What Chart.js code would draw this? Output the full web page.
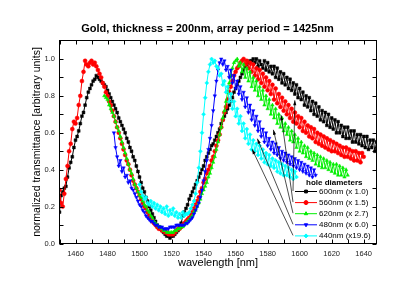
<!DOCTYPE html>
<html>
<head>
<meta charset="utf-8">
<script src="https://cdn.jsdelivr.net/npm/chart.js@4/dist/chart.umd.min.js"></script>
<style>
  html, body { margin: 0; padding: 0; background: #fff; }
  #wrap { width: 415px; height: 290px; }
</style>
</head>
<body>
<div id="wrap"><canvas id="spectra" width="415" height="290"></canvas></div>
<script>
// wavelength grid (nm) shared by all series, 1450 .. 1648
const wavelength = [
  1450, 1451, 1452, 1453, 1454, 1455, 1456, 1457, 1458, 1459,
  1460, 1461, 1462, 1463, 1464, 1465, 1466, 1467, 1468, 1469,
  1470, 1471, 1472, 1473, 1474, 1475, 1476, 1477, 1478, 1479,
  1480, 1481, 1482, 1483, 1484, 1485, 1486, 1487, 1488, 1489,
  1490, 1491, 1492, 1493, 1494, 1495, 1496, 1497, 1498, 1499,
  1500, 1501, 1502, 1503, 1504, 1505, 1506, 1507, 1508, 1509,
  1510, 1511, 1512, 1513, 1514, 1515, 1516, 1517, 1518, 1519,
  1520, 1521, 1522, 1523, 1524, 1525, 1526, 1527, 1528, 1529,
  1530, 1531, 1532, 1533, 1534, 1535, 1536, 1537, 1538, 1539,
  1540, 1541, 1542, 1543, 1544, 1545, 1546, 1547, 1548, 1549,
  1550, 1551, 1552, 1553, 1554, 1555, 1556, 1557, 1558, 1559,
  1560, 1561, 1562, 1563, 1564, 1565, 1566, 1567, 1568, 1569,
  1570, 1571, 1572, 1573, 1574, 1575, 1576, 1577, 1578, 1579,
  1580, 1581, 1582, 1583, 1584, 1585, 1586, 1587, 1588, 1589,
  1590, 1591, 1592, 1593, 1594, 1595, 1596, 1597, 1598, 1599,
  1600, 1601, 1602, 1603, 1604, 1605, 1606, 1607, 1608, 1609,
  1610, 1611, 1612, 1613, 1614, 1615, 1616, 1617, 1618, 1619,
  1620, 1621, 1622, 1623, 1624, 1625, 1626, 1627, 1628, 1629,
  1630, 1631, 1632, 1633, 1634, 1635, 1636, 1637, 1638, 1639,
  1640, 1641, 1642, 1643, 1644, 1645, 1646, 1647, 1648
];

// normalized transmittance for each hole diameter (null = not measured)
const hole600 = [
  0.17, 0.26, 0.28, 0.30, 0.31, 0.36, 0.41, 0.44, 0.47, 0.52,
  0.56, 0.58, 0.61, 0.65, 0.69, 0.71, 0.75, 0.79, 0.82, 0.84,
  0.86, 0.88, 0.89, 0.91, 0.90, 0.89, 0.88, 0.87, 0.86, 0.85,
  0.83, 0.81, 0.79, 0.77, 0.75, 0.73, 0.71, 0.68, 0.66, 0.64,
  0.62, 0.60, 0.57, 0.55, 0.52, 0.50, 0.47, 0.45, 0.42, 0.39,
  0.36, 0.33, 0.30, 0.28, 0.25, 0.23, 0.20, 0.18, 0.16, 0.14,
  0.12, 0.10, 0.09, 0.08, 0.07, 0.06, 0.05, 0.04, 0.04, 0.03,
  0.04, 0.04, 0.05, 0.06, 0.07, 0.09, 0.11, 0.15, 0.17, 0.19,
  0.21, 0.24, 0.26, 0.28, 0.30, 0.32, 0.34, 0.36, 0.38, 0.40,
  0.42, 0.45, 0.47, 0.49, 0.51, 0.53, 0.54, 0.56, 0.58, 0.60,
  0.62, 0.65, 0.67, 0.69, 0.71, 0.73, 0.75, 0.77, 0.79, 0.82,
  0.84, 0.86, 0.88, 0.90, 0.92, 0.94, 0.96, 0.97, 0.98, 0.99,
  0.99, 1.00, 0.98, 1.00, 0.96, 0.99, 0.97, 0.95, 0.99, 0.94,
  0.98, 0.93, 0.96, 0.92, 0.96, 0.90, 0.95, 0.89, 0.93, 0.87,
  0.92, 0.86, 0.90, 0.84, 0.89, 0.83, 0.87, 0.81, 0.86, 0.79,
  0.84, 0.78, 0.82, 0.75, 0.80, 0.74, 0.79, 0.72, 0.77, 0.70,
  0.76, 0.69, 0.74, 0.67, 0.72, 0.66, 0.71, 0.64, 0.70, 0.63,
  0.68, 0.62, 0.67, 0.60, 0.66, 0.60, 0.64, 0.58, 0.63, 0.57,
  0.63, 0.57, 0.61, 0.55, 0.61, 0.55, 0.59, 0.54, 0.59, 0.53,
  0.58, 0.52, 0.58, 0.51, 0.56, 0.52, 0.56, 0.50, 0.55
];
const hole560 = [
  0.29, 0.22, 0.20, 0.27, 0.35, 0.42, 0.50, 0.54, 0.62, 0.66,
  0.65, 0.68, 0.75, 0.80, 0.88, 0.93, 0.99, 0.97, 0.96, 0.98,
  0.99, 0.97, 0.98, 0.96, 0.94, 0.92, 0.90, 0.87, 0.85, 0.82,
  0.80, 0.77, 0.75, 0.72, 0.69, 0.66, 0.63, 0.60, 0.57, 0.54,
  0.51, 0.48, 0.45, 0.43, 0.40, 0.37, 0.34, 0.32, 0.30, 0.28,
  0.26, 0.24, 0.22, 0.20, 0.19, 0.17, 0.15, 0.14, 0.12, 0.11,
  0.10, 0.09, 0.08, 0.08, 0.07, 0.07, 0.06, 0.06, 0.05, 0.05,
  0.05, 0.05, 0.06, 0.07, 0.08, 0.08, 0.09, 0.10, 0.11, 0.12,
  0.13, 0.14, 0.16, 0.17, 0.19, 0.21, 0.23, 0.25, 0.28, 0.30,
  0.33, 0.35, 0.38, 0.40, 0.42, 0.45, 0.47, 0.50, 0.53, 0.56,
  0.59, 0.63, 0.67, 0.71, 0.74, 0.78, 0.82, 0.85, 0.88, 0.91,
  0.93, 0.95, 0.96, 0.98, 0.99, 1.00, 0.97, 0.99, 0.95, 0.98,
  0.93, 0.97, 0.91, 0.95, 0.89, 0.94, 0.87, 0.92, 0.85, 0.90,
  0.83, 0.88, 0.81, 0.86, 0.78, 0.84, 0.76, 0.81, 0.74, 0.79,
  0.72, 0.77, 0.70, 0.75, 0.68, 0.73, 0.66, 0.71, 0.65, 0.69,
  0.63, 0.68, 0.61, 0.66, 0.60, 0.64, 0.58, 0.63, 0.57, 0.62,
  0.55, 0.60, 0.54, 0.59, 0.53, 0.58, 0.52, 0.57, 0.51, 0.56,
  0.50, 0.55, 0.50, 0.54, 0.49, 0.53, 0.48, 0.52, 0.47, 0.52,
  0.47, 0.51, 0.46, 0.50, 0.45, 0.50, 0.45, 0.49, 0.44, 0.49,
  0.47, null, null, null, null, null, null, null, null
];
const hole620 = [
  null, null, null, null, null, null, null, null, null, null,
  null, null, null, null, null, null, null, null, null, null,
  null, null, null, null, null, null, null, null, 0.80, 0.79,
  0.78, 0.75, 0.73, 0.71, 0.69, 0.66, 0.63, 0.61, 0.58, 0.55,
  0.52, 0.49, 0.46, 0.43, 0.40, 0.38, 0.35, 0.32, 0.30, 0.28,
  0.26, 0.25, 0.23, 0.21, 0.20, 0.18, 0.17, 0.15, 0.14, 0.12,
  0.11, 0.10, 0.09, 0.09, 0.08, 0.07, 0.07, 0.06, 0.06, 0.06,
  0.06, 0.06, 0.07, 0.07, 0.08, 0.08, 0.09, 0.09, 0.10, 0.11,
  0.12, 0.13, 0.14, 0.15, 0.17, 0.18, 0.20, 0.22, 0.24, 0.27,
  0.29, 0.31, 0.33, 0.36, 0.38, 0.41, 0.44, 0.47, 0.51, 0.55,
  0.59, 0.63, 0.68, 0.72, 0.77, 0.82, 0.87, 0.91, 0.95, 0.98,
  0.99, 1.00, 0.96, 0.98, 0.93, 0.97, 0.90, 0.95, 0.88, 0.93,
  0.85, 0.90, 0.83, 0.88, 0.80, 0.85, 0.78, 0.83, 0.75, 0.80,
  0.73, 0.78, 0.70, 0.75, 0.68, 0.73, 0.65, 0.70, 0.63, 0.68,
  0.61, 0.65, 0.59, 0.63, 0.56, 0.61, 0.55, 0.59, 0.52, 0.57,
  0.50, 0.55, 0.49, 0.53, 0.47, 0.52, 0.46, 0.50, 0.45, 0.49,
  0.43, 0.48, 0.42, 0.47, 0.41, 0.46, 0.41, 0.45, 0.40, 0.44,
  0.39, 0.43, 0.38, 0.43, 0.37, 0.42, 0.37, 0.41, 0.36, 0.40,
  0.37, null, null, null, null, null, null, null, null, null,
  null, null, null, null, null, null, null, null, null
];
const hole480 = [
  null, null, null, null, null, null, null, null, null, null,
  null, null, null, null, null, null, null, null, null, null,
  null, null, null, null, null, null, null, null, null, null,
  null, null, null, null, 0.60, 0.52, 0.47, 0.42, 0.45, 0.39,
  0.41, 0.36, 0.37, 0.33, 0.34, 0.30, 0.29, 0.27, 0.25, 0.23,
  0.21, 0.20, 0.18, 0.17, 0.15, 0.14, 0.13, 0.12, 0.12, 0.11,
  0.10, 0.10, 0.09, 0.09, 0.09, 0.08, 0.08, 0.08, 0.08, 0.09,
  0.09, 0.09, 0.09, 0.10, 0.10, 0.10, 0.10, 0.10, 0.10, 0.11,
  0.11, 0.12, 0.13, 0.14, 0.16, 0.18, 0.20, 0.22, 0.25, 0.29,
  0.34, 0.39, 0.45, 0.51, 0.57, 0.64, 0.72, 0.80, 0.88, 0.94,
  0.98, 1.00, 0.97, 0.99, 0.94, 0.96, 0.90, 0.94, 0.87, 0.91,
  0.84, 0.88, 0.81, 0.85, 0.78, 0.82, 0.74, 0.79, 0.71, 0.75,
  0.67, 0.72, 0.64, 0.69, 0.61, 0.66, 0.58, 0.62, 0.55, 0.60,
  0.53, 0.57, 0.51, 0.55, 0.49, 0.54, 0.48, 0.52, 0.46, 0.50,
  0.45, 0.49, 0.44, 0.48, 0.43, 0.47, 0.42, 0.46, 0.41, 0.45,
  0.40, 0.44, 0.39, 0.43, 0.38, 0.42, 0.37, 0.41, 0.36, 0.40,
  0.37, null, null, null, null, null, null, null, null, null,
  null, null, null, null, null, null, null, null, null, null,
  null, null, null, null, null, null, null, null, null, null,
  null, null, null, null, null, null, null, null, null
];
const hole440 = [
  null, null, null, null, null, null, null, null, null, null,
  null, null, null, null, null, null, null, null, null, null,
  null, null, null, null, null, null, null, null, null, null,
  null, null, null, null, null, null, null, null, null, null,
  null, null, null, null, null, null, null, null, null, null,
  0.32, 0.28, 0.26, 0.24, 0.25, 0.22, 0.21, 0.23, 0.20, 0.22,
  0.19, 0.21, 0.18, 0.20, 0.17, 0.19, 0.16, 0.20, 0.15, 0.18,
  0.16, 0.19, 0.15, 0.17, 0.14, 0.16, 0.14, 0.17, 0.15, 0.16,
  0.16, 0.17, 0.19, 0.21, 0.23, 0.27, 0.33, 0.41, 0.50, 0.60,
  0.70, 0.79, 0.87, 0.93, 0.97, 1.00, 0.98, 0.99, 0.96, 0.95,
  0.91, 0.92, 0.86, 0.88, 0.82, 0.85, 0.77, 0.81, 0.73, 0.77,
  0.69, 0.73, 0.65, 0.69, 0.61, 0.65, 0.57, 0.62, 0.54, 0.59,
  0.51, 0.56, 0.50, 0.54, 0.48, 0.53, 0.46, 0.51, 0.44, 0.49,
  0.43, 0.48, 0.42, 0.46, 0.41, 0.45, 0.39, 0.44, 0.38, 0.43,
  0.37, 0.42, 0.37, 0.41, 0.36, 0.40, 0.35, 0.39, 0.36, null,
  null, null, null, null, null, null, null, null, null, null,
  null, null, null, null, null, null, null, null, null, null,
  null, null, null, null, null, null, null, null, null, null,
  null, null, null, null, null, null, null, null, null, null,
  null, null, null, null, null, null, null, null, null
];

const seriesLabels = ["600nm (x 1.0)", "560nm (x 1.5)", "620nm (x 2.7)", "480nm (x 6.0)", "440nm (x19.6)"];
const seriesValues = [hole600, hole560, hole620, hole480, hole440];

// tick marks and labelled ticks
const xTicks = [1450, 1460, 1470, 1480, 1490, 1500, 1510, 1520, 1530, 1540,
                1550, 1560, 1570, 1580, 1590, 1600, 1610, 1620, 1630, 1640];
const xLabeled = [1460, 1480, 1500, 1520, 1540, 1560, 1580, 1600, 1620, 1640];
const yTicks = [0, 0.1, 0.2, 0.3, 0.4, 0.5, 0.6, 0.7, 0.8, 0.9, 1.0];
const yLabeled = [0, 0.2, 0.4, 0.6, 0.8, 1.0];

// where each legend arrow points (data units)
const arrowTipWl = [1597.0, 1588.4, 1583.6, 1573.6, 1570.3];
const arrowTipVal = [0.776, 0.695, 0.616, 0.568, 0.511];

const colors = ["#000000", "#ff0000", "#00ee00", "#0000ff", "#00ffff"];
const markers = [
  { style: "rect", rot: 0 },
  { style: "circle", rot: 0 },
  { style: "triangle", rot: 0 },
  { style: "triangle", rot: 180 },
  { style: "rectRot", rot: 0 }
];

const FONT = "'Liberation Sans', Arial, Helvetica, sans-serif";
Chart.defaults.font.family = FONT;

function toPoints(values) {
  const pts = [];
  values.forEach((v, i) => {
    if (v !== null) pts.push({ x: wavelength[i], y: v });
  });
  return pts;
}

const datasets = seriesValues.map((vals, i) => ({
  label: seriesLabels[i],
  data: toPoints(vals),
  showLine: true,
  borderColor: colors[i],
  backgroundColor: colors[i],
  borderWidth: 1,
  pointStyle: markers[i].style,
  rotation: markers[i].rot,
  pointRadius: 2,
  pointBorderWidth: 0.5,
  order: seriesValues.length - i
}));

// frame with inward ticks on all four sides + title
const framePlugin = {
  id: "frame",
  afterDatasetsDraw(chart) {
    const { ctx, chartArea: a, scales } = chart;
    ctx.save();
    ctx.strokeStyle = "#000";
    ctx.lineWidth = 1;
    ctx.strokeRect(a.left, a.top, a.right - a.left, a.bottom - a.top);
    ctx.beginPath();
    xTicks.forEach(v => {
      const x = Math.round(scales.x.getPixelForValue(v)) + 0.5;
      ctx.moveTo(x, a.bottom); ctx.lineTo(x, a.bottom - 4);
      ctx.moveTo(x, a.top); ctx.lineTo(x, a.top + 4);
    });
    yTicks.forEach(v => {
      const y = Math.round(scales.y.getPixelForValue(v)) + 0.5;
      ctx.moveTo(a.left, y); ctx.lineTo(a.left + 4, y);
      ctx.moveTo(a.right, y); ctx.lineTo(a.right - 4, y);
    });
    ctx.stroke();
    ctx.fillStyle = "#000";
    ctx.font = "bold 11px " + FONT;
    ctx.textAlign = "center";
    ctx.textBaseline = "middle";
    ctx.fillText("Gold, thickness = 200nm, array period = 1425nm", chart.width / 2, 29);
    ctx.restore();
  }
};

// legend box inside plot, with arrows to the curves
const legendPlugin = {
  id: "holeLegend",
  afterDraw(chart) {
    const { ctx, chartArea: a, scales } = chart;
    const lineX = a.right - 81.5;
    const rowY = a.bottom - 52;
    const step = 11.1;
    ctx.save();
    ctx.fillStyle = "#000";
    ctx.font = "bold 8px " + FONT;
    ctx.textAlign = "left";
    ctx.textBaseline = "middle";
    ctx.fillText("hole diameters", lineX + 11, rowY - 8.5);
    chart.data.datasets.forEach((ds, i) => {
      const y = rowY + i * step;
      ctx.strokeStyle = ds.borderColor;
      ctx.lineWidth = 1;
      ctx.beginPath();
      ctx.moveTo(lineX, y); ctx.lineTo(lineX + 22, y);
      ctx.stroke();
      ctx.fillStyle = ds.backgroundColor;
      Chart.helpers.drawPoint(ctx, {
        pointStyle: ds.pointStyle, rotation: ds.rotation, radius: 2, borderWidth: 0.5
      }, lineX + 11, y);
      ctx.fillStyle = "#000";
      ctx.font = "8px " + FONT;
      ctx.fillText(ds.label, lineX + 24, y);

      // arrow from legend row to its curve
      const tx = lineX - 2, ty = y - 0.5;
      const hx = scales.x.getPixelForValue(arrowTipWl[i]);
      const hy = scales.y.getPixelForValue(arrowTipVal[i]);
      const ang = Math.atan2(hy - ty, hx - tx);
      ctx.strokeStyle = "#000";
      ctx.lineWidth = 0.7;
      ctx.beginPath();
      ctx.moveTo(tx, ty); ctx.lineTo(hx, hy);
      ctx.stroke();
      ctx.fillStyle = "#000";
      ctx.beginPath();
      ctx.moveTo(hx, hy);
      ctx.lineTo(hx - 5 * Math.cos(ang) + 1.6 * Math.sin(ang), hy - 5 * Math.sin(ang) - 1.6 * Math.cos(ang));
      ctx.lineTo(hx - 5 * Math.cos(ang) - 1.6 * Math.sin(ang), hy - 5 * Math.sin(ang) + 1.6 * Math.cos(ang));
      ctx.closePath();
      ctx.fill();
    });
    ctx.restore();
  }
};

const near = (list, v) => list.some(t => Math.abs(t - v) < 1e-6);

new Chart(document.getElementById("spectra"), {
  type: "scatter",
  data: { datasets },
  options: {
    responsive: false,
    animation: false,
    layout: { padding: { left: 0, right: 38.5, top: 40.5, bottom: 0 } },
    plugins: { legend: { display: false }, tooltip: { enabled: false }, title: { display: false } },
    scales: {
      x: {
        type: "linear",
        min: 1450,
        max: 1648,
        afterFit(scale) { scale.height = 46.5; },
        afterBuildTicks(scale) { scale.ticks = xTicks.map(v => ({ value: v })); },
        grid: { display: false, drawTicks: false },
        border: { display: false },
        ticks: {
          autoSkip: false,
          maxRotation: 0,
          padding: 5.5,
          color: "#222",
          font: { size: 7.5 },
          callback: v => near(xLabeled, v) ? String(v) : ""
        },
        title: {
          display: true,
          text: "wavelength [nm]",
          color: "#000",
          font: { size: 11 },
          padding: { top: 0, bottom: 20.4 }
        }
      },
      y: {
        min: 0,
        max: 1.1,
        afterFit(scale) { scale.width = 59.5; },
        afterBuildTicks(scale) { scale.ticks = yTicks.map(v => ({ value: v })); },
        grid: { display: false, drawTicks: false },
        border: { display: false },
        ticks: {
          autoSkip: false,
          padding: 4.5,
          color: "#222",
          font: { size: 7.5 },
          callback: v => near(yLabeled, v) ? v.toFixed(1) : ""
        },
        title: {
          display: true,
          text: "normalized transmittance [arbitrary units]",
          color: "#000",
          font: { size: 10.5 },
          padding: { top: 30.4, bottom: 0 }
        }
      }
    }
  },
  plugins: [framePlugin, legendPlugin]
});
</script>
</body>
</html>
